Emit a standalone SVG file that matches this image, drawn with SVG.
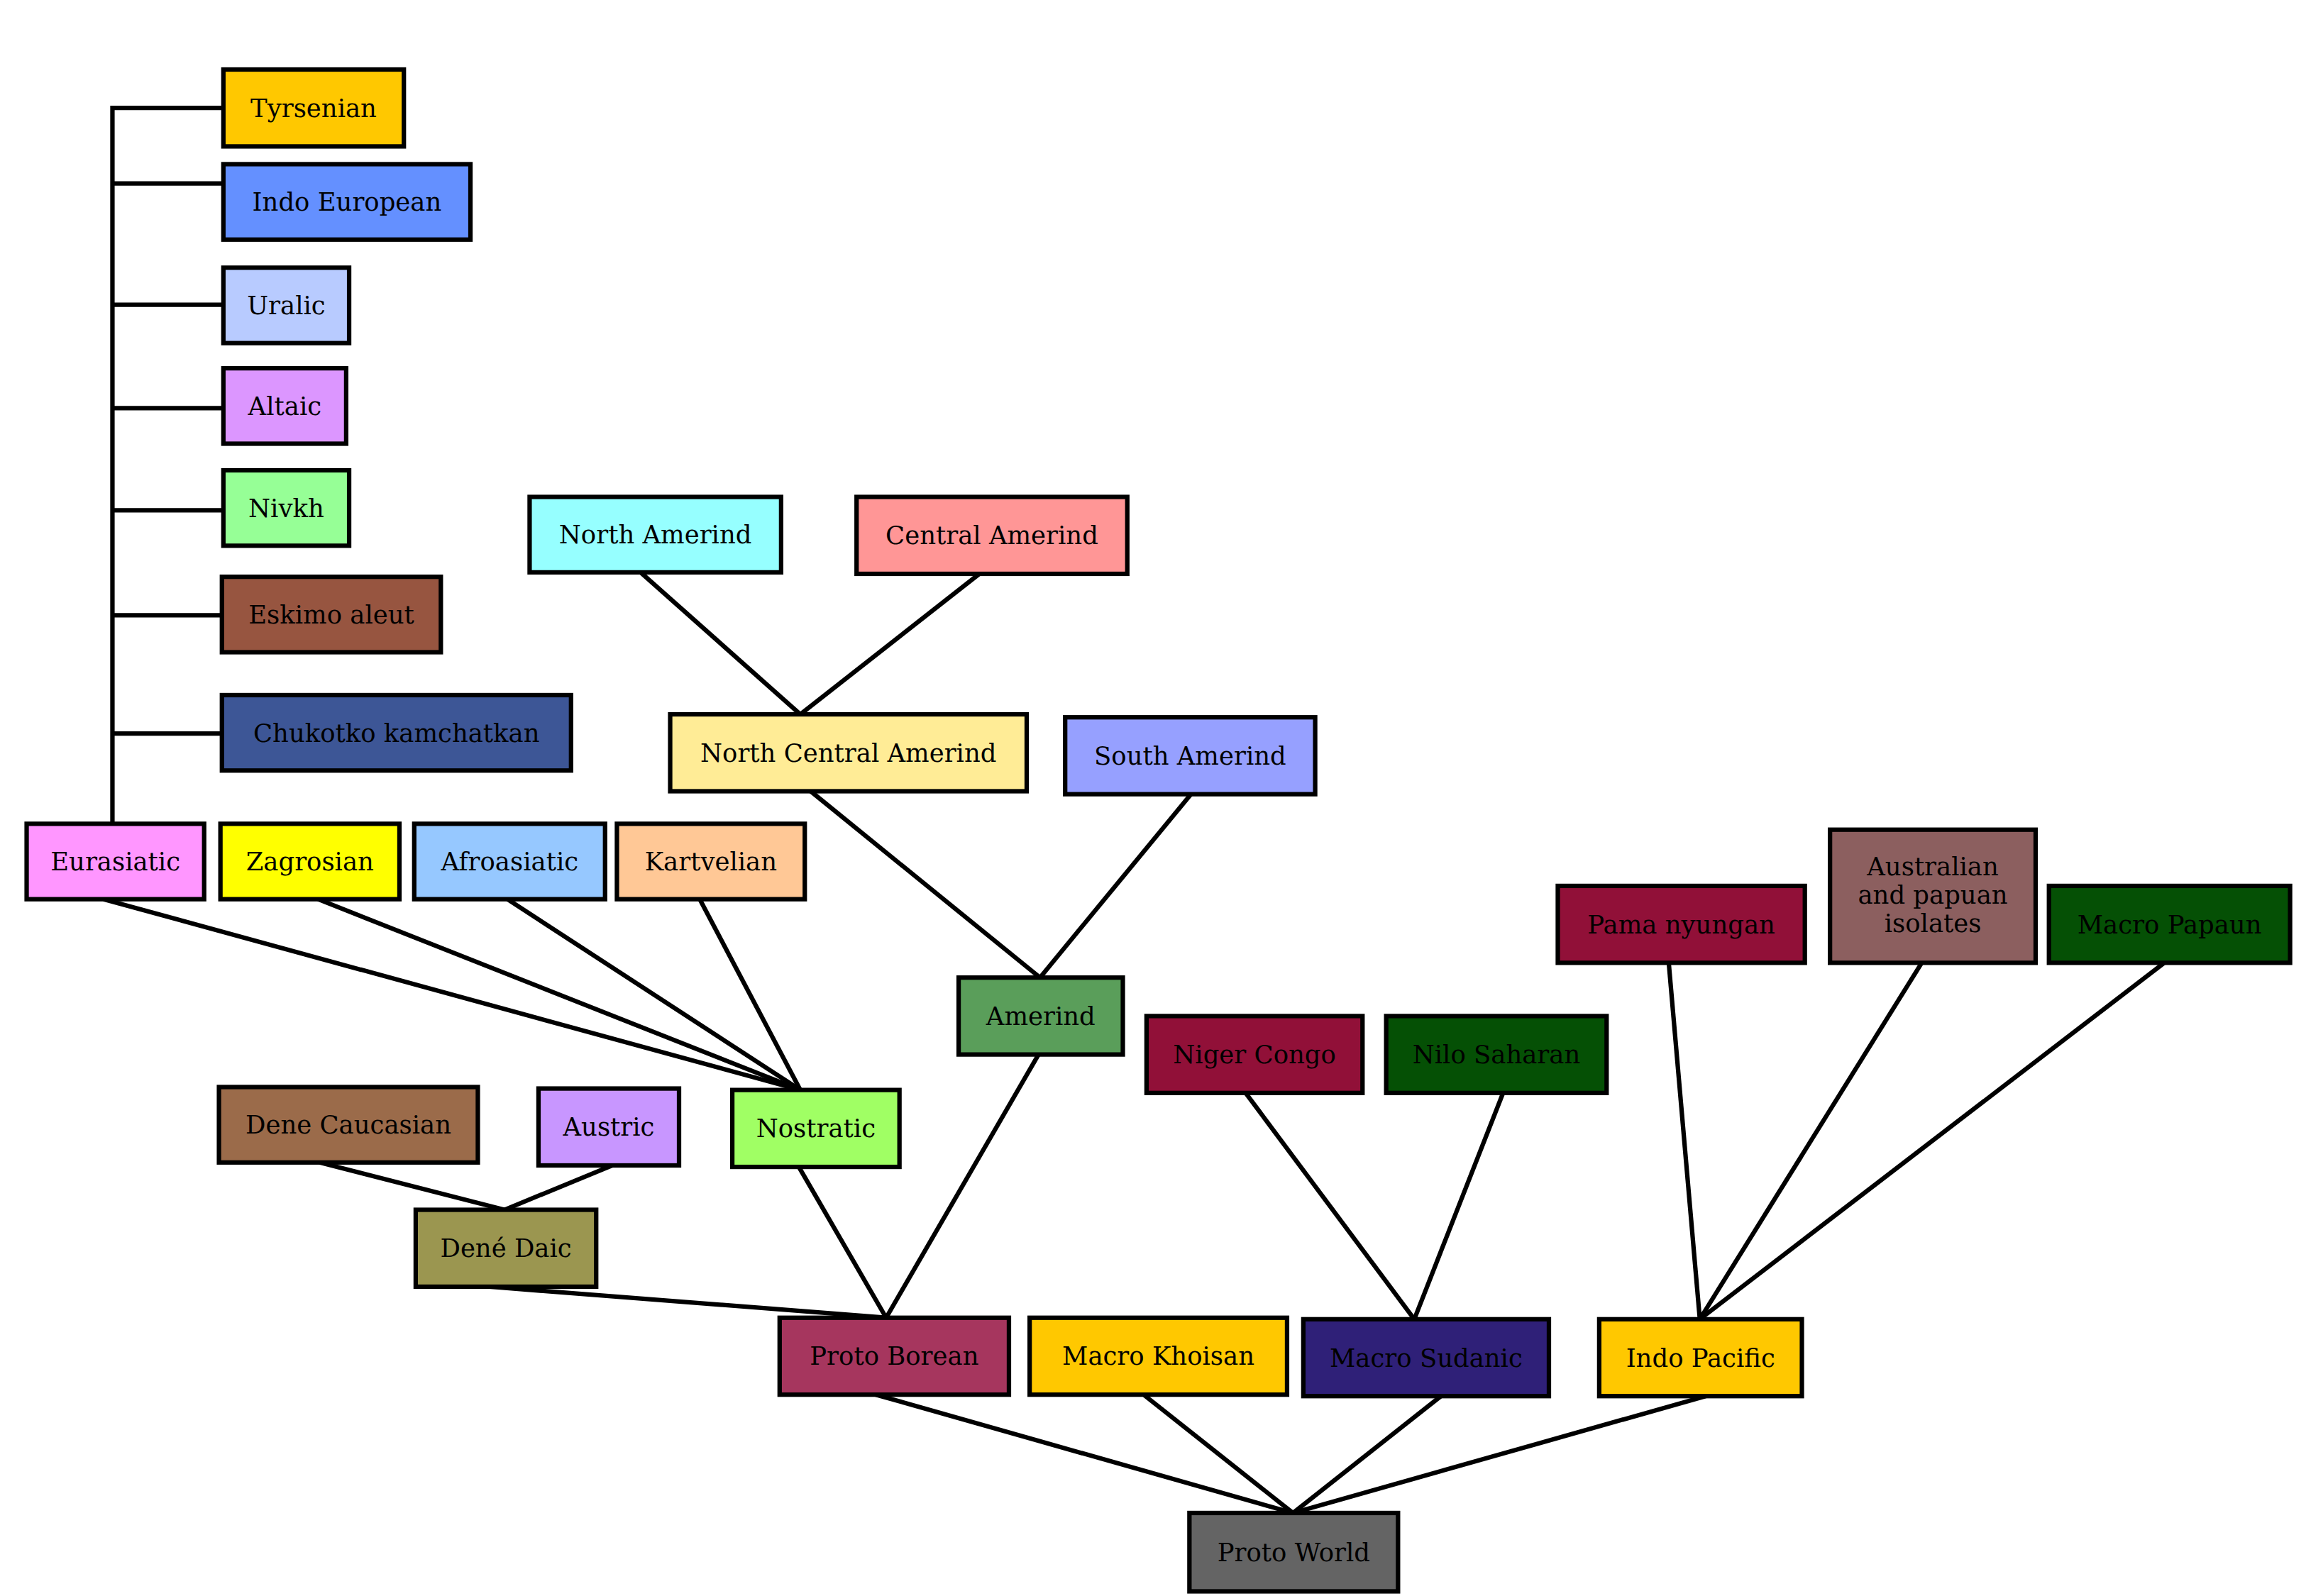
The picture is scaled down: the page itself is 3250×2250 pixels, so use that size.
<svg xmlns="http://www.w3.org/2000/svg" width="3250" height="2250" viewBox="0 0 3250 2250">
<style>
rect{stroke:#000;stroke-width:3}
text{font-family:"DejaVu Serif","Liberation Serif",serif;font-size:17px;fill:#000;text-anchor:middle;dominant-baseline:central}
#edges line,#edges polyline{stroke:#000;stroke-width:3;fill:none}
</style>
<rect width="3250" height="2250" fill="#fff" style="stroke:none"/>
<g transform="scale(2.085)">
<g id="edges">
<polyline points="151,73 76,73 76,557"/>
<line x1="76" y1="124" x2="151" y2="124"/>
<line x1="76" y1="206" x2="151" y2="206"/>
<line x1="76" y1="276" x2="151" y2="276"/>
<line x1="76" y1="345" x2="151" y2="345"/>
<line x1="76" y1="416" x2="150" y2="416"/>
<line x1="76" y1="496" x2="150" y2="496"/>
<line x1="70" y1="608" x2="541" y2="737"/>
<line x1="215" y1="608" x2="541" y2="737"/>
<line x1="343" y1="608" x2="541" y2="737"/>
<line x1="473" y1="608" x2="541" y2="737"/>
<line x1="433" y1="387" x2="541" y2="483"/>
<line x1="662" y1="388" x2="541" y2="483"/>
<line x1="548" y1="535" x2="703" y2="661"/>
<line x1="805" y1="537" x2="703" y2="661"/>
<line x1="540" y1="789" x2="599" y2="891"/>
<line x1="702" y1="713" x2="599" y2="891"/>
<line x1="331" y1="870" x2="599" y2="891"/>
<line x1="216" y1="786" x2="341" y2="818"/>
<line x1="414" y1="788" x2="341" y2="818"/>
<line x1="842" y1="739" x2="956" y2="892"/>
<line x1="1016" y1="739" x2="956" y2="892"/>
<line x1="1128" y1="651" x2="1149" y2="892"/>
<line x1="1299" y1="651" x2="1149" y2="892"/>
<line x1="1463" y1="651" x2="1149" y2="892"/>
<line x1="592" y1="943" x2="874" y2="1023"/>
<line x1="773" y1="943" x2="874" y2="1023"/>
<line x1="974" y1="944" x2="874" y2="1023"/>
<line x1="1153" y1="944" x2="874" y2="1023"/>
</g>
<g id="tyrsenian"><rect x="151" y="47" width="122" height="52" fill="#FFC800"/><text x="212" y="73">Tyrsenian</text></g>
<g id="indo_european"><rect x="151" y="111" width="167" height="51" fill="#6490FF"/><text x="234.5" y="136.5">Indo European</text></g>
<g id="uralic"><rect x="151" y="181" width="85" height="51" fill="#B8CBFF"/><text x="193.5" y="206.5">Uralic</text></g>
<g id="altaic"><rect x="151" y="249" width="83" height="51" fill="#DC96FF"/><text x="192.5" y="274.5">Altaic</text></g>
<g id="nivkh"><rect x="151" y="318" width="85" height="51" fill="#96FF96"/><text x="193.5" y="343.5">Nivkh</text></g>
<g id="eskimo_aleut"><rect x="150" y="390" width="148" height="51" fill="#975540"/><text x="224" y="415.5">Eskimo aleut</text></g>
<g id="chukotko"><rect x="150" y="470" width="236" height="51" fill="#3D5696"/><text x="268" y="495.5">Chukotko kamchatkan</text></g>
<g id="eurasiatic"><rect x="18" y="557" width="120" height="51" fill="#FF96FF"/><text x="78" y="582.5">Eurasiatic</text></g>
<g id="zagrosian"><rect x="149" y="557" width="121" height="51" fill="#FFFF00"/><text x="209.5" y="582.5">Zagrosian</text></g>
<g id="afroasiatic"><rect x="280" y="557" width="129" height="51" fill="#96C8FF"/><text x="344.5" y="582.5">Afroasiatic</text></g>
<g id="kartvelian"><rect x="417" y="557" width="127" height="51" fill="#FFC896"/><text x="480.5" y="582.5">Kartvelian</text></g>
<g id="north_amerind"><rect x="358" y="336" width="170" height="51" fill="#96FFFF"/><text x="443" y="361.5">North Amerind</text></g>
<g id="central_amerind"><rect x="579" y="336" width="183" height="52" fill="#FF9696"/><text x="670.5" y="362">Central Amerind</text></g>
<g id="north_central_amerind"><rect x="453" y="483" width="241" height="52" fill="#FFEC96"/><text x="573.5" y="509">North Central Amerind</text></g>
<g id="south_amerind"><rect x="720" y="485" width="169" height="52" fill="#96A0FF"/><text x="804.5" y="511">South Amerind</text></g>
<g id="amerind"><rect x="648" y="661" width="111" height="52" fill="#5A9E5A"/><text x="703.5" y="687">Amerind</text></g>
<g id="niger_congo"><rect x="775" y="687" width="146" height="52" fill="#911038"/><text x="848" y="713">Niger Congo</text></g>
<g id="nilo_saharan"><rect x="937" y="687" width="149" height="52" fill="#055005"/><text x="1011.5" y="713">Nilo Saharan</text></g>
<g id="dene_caucasian"><rect x="148" y="735" width="175" height="51" fill="#9B6B4A"/><text x="235.5" y="760.5">Dene Caucasian</text></g>
<g id="austric"><rect x="364" y="736" width="95" height="52" fill="#C896FF"/><text x="411.5" y="762">Austric</text></g>
<g id="nostratic"><rect x="495" y="737" width="113" height="52" fill="#A0FF64"/><text x="551.5" y="763">Nostratic</text></g>
<g id="dene_daic"><rect x="281" y="818" width="122" height="52" fill="#9B9650"/><text x="342" y="844">Dené Daic</text></g>
<g id="pama_nyungan"><rect x="1053" y="599" width="167" height="52" fill="#911038"/><text x="1136.5" y="625">Pama nyungan</text></g>
<g id="australian"><rect x="1237" y="561" width="139" height="90" fill="#8C5F5F"/><text x="1306.5" y="586">Australian</text><text x="1306.5" y="605">and papuan</text><text x="1306.5" y="624">isolates</text></g>
<g id="macro_papaun"><rect x="1385" y="599" width="163" height="52" fill="#055005"/><text x="1466.5" y="625">Macro Papaun</text></g>
<g id="proto_borean"><rect x="527" y="891" width="155" height="52" fill="#A6365E"/><text x="604.5" y="917">Proto Borean</text></g>
<g id="macro_khoisan"><rect x="696" y="891" width="174" height="52" fill="#FFC800"/><text x="783" y="917">Macro Khoisan</text></g>
<g id="macro_sudanic"><rect x="881" y="892" width="166" height="52" fill="#2F2078"/><text x="964" y="918">Macro Sudanic</text></g>
<g id="indo_pacific"><rect x="1081" y="892" width="137" height="52" fill="#FFC800"/><text x="1149.5" y="918">Indo Pacific</text></g>
<g id="proto_world"><rect x="804" y="1023" width="141" height="53" fill="#646464"/><text x="874.5" y="1049.5">Proto World</text></g>
</g>
</svg>
